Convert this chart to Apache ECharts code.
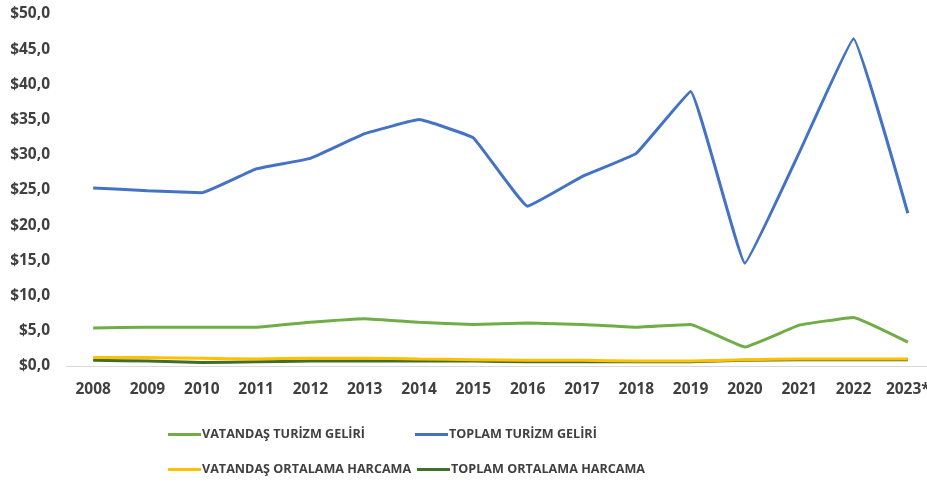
<!DOCTYPE html>
<html>
<head>
<meta charset="utf-8">
<script src="https://cdn.jsdelivr.net/npm/echarts@6/dist/echarts.min.js"></script>
<style>
html, body { margin: 0; padding: 0; background: #fff; }
#container { width: 927px; height: 486px; }
</style>
</head>
<body>
<div id="container"></div>
<script>
var years = ['2008', '2009', '2010', '2011', '2012', '2013', '2014', '2015', '2016', '2017', '2018', '2019', '2020', '2021', '2022', '2023*'];
var vatandasTurizm = [5.4, 5.5, 5.5, 5.5, 6.2, 6.7, 6.2, 5.9, 6.1, 5.9, 5.5, 5.9, 2.7, 5.8, 6.9, 3.4];
var toplamTurizm = [25.3, 24.9, 24.6, 28.0, 29.5, 33.0, 35.0, 32.4, 22.7, 26.9, 30.2, 39.0, 14.6, 30.3, 46.5, 21.7];
var vatandasHarcama = [1.2, 1.2, 1.1, 1.0, 1.1, 1.1, 1.0, 0.9, 0.8, 0.8, 0.7, 0.7, 0.9, 1.0, 1.0, 1.0];
var toplamHarcama = [0.8, 0.7, 0.5, 0.6, 0.7, 0.7, 0.7, 0.7, 0.6, 0.6, 0.6, 0.6, 0.8, 0.9, 0.9, 0.9];

var names = ['VATANDAŞ TURİZM GELİRİ', 'TOPLAM TURİZM GELİRİ', 'VATANDAŞ ORTALAMA HARCAMA', 'TOPLAM ORTALAMA HARCAMA'];
var colors = ['#70AD47', '#4472C4', '#FFC000', '#416E2A'];

var myChart = echarts.init(document.getElementById('container'));
var font = 'Open Sans';

function legendAt(name, left, top) {
    return {
        data: [name],
        left: left,
        top: top,
        icon: 'rect',
        itemWidth: 33,
        itemHeight: 3,
        padding: 0,
        selectedMode: false,
        textStyle: { color: '#404040', fontFamily: font, fontSize: 12.6, fontWeight: 'bold', padding: [0, 0, 0, -4] }
    };
}

function mkSeries(i, data) {
    return {
        name: names[i],
        type: 'line',
        data: data,
        smooth: 0.08,
        symbol: 'none',
        lineStyle: { width: 3, color: colors[i] },
        itemStyle: { color: colors[i] }
    };
}

var option = {
    animation: false,
    color: colors,
    grid: { left: 66, width: 869, top: 14, bottom: 120, outerBoundsMode: 'none', containLabel: false },
    legend: [
        legendAt(names[0], 168, 428),
        legendAt(names[1], 415, 428),
        legendAt(names[2], 168, 463),
        legendAt(names[3], 417, 463)
    ],
    xAxis: {
        type: 'category',
        data: years,
        boundaryGap: true,
        axisLine: { lineStyle: { color: '#d9d9d9', width: 1 } },
        axisTick: { show: false },
        axisLabel: { color: '#404040', fontFamily: font, fontSize: 15.5, fontWeight: 'bold', margin: 16, interval: 0 }
    },
    yAxis: {
        type: 'value',
        min: 0,
        max: 50,
        interval: 5,
        splitLine: { show: false },
        axisLine: { show: false },
        axisTick: { show: false },
        axisLabel: {
            color: '#404040', fontFamily: font, fontSize: 15.5, fontWeight: 'bold', margin: 16,
            formatter: function (v) { return '$' + v.toFixed(1).replace('.', ','); }
        }
    },
    series: [
        mkSeries(3, toplamHarcama),
        mkSeries(2, vatandasHarcama),
        mkSeries(0, vatandasTurizm),
        mkSeries(1, toplamTurizm)
    ]
};
myChart.setOption(option, true);
</script>
</body>
</html>
